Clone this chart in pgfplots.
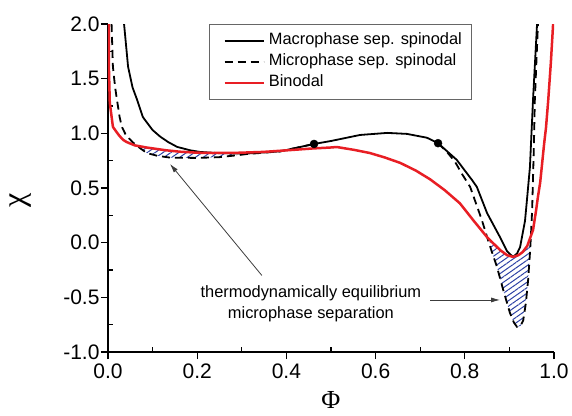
\documentclass[border=0pt]{standalone}
\usepackage{pgfplots}
\pgfplotsset{compat=1.18}
\usepackage{fontspec}
\setmainfont{Liberation Sans}
\newfontfamily\greekfont{Liberation Serif}
\usetikzlibrary{patterns,patterns.meta,arrows.meta}
\definecolor{myred}{RGB}{232,30,36}
\definecolor{hatchblue}{RGB}{45,65,165}
\definecolor{arrowgray}{RGB}{60,60,60}
\begin{document}
\begin{tikzpicture}
\useasboundingbox (-108pt,-63pt) rectangle (464pt,352pt);
\begin{axis}[
 at={(0pt,0pt)}, anchor=south west,
 scale only axis, width=446pt, height=328pt,
 xmin=0, xmax=1, ymin=-1, ymax=2,
 axis x line*=bottom, axis y line*=left,
 axis line style={line width=1.2pt},
 xtick={0,0.2,0.4,0.6,0.8,1}, ytick={-1,-0.5,0,0.5,1,1.5,2},
 minor x tick num=1, minor y tick num=1,
 tick align=inside, major tick length=7pt, minor tick length=5pt,
 every tick/.style={black, line width=1.1pt},
 major x tick style={yshift=-7pt},
 major y tick style={xshift=-7pt},
 /pgf/number format/.cd, fixed, fixed zerofill, precision=1, assume math mode=true,
 /pgfplots/.cd,
 xticklabel style={font=\fontsize{21}{25}\selectfont, yshift=-8pt},
 yticklabel style={font=\fontsize{21}{25}\selectfont, xshift=-5pt},
 xlabel={\greekfont Φ}, ylabel={\greekfont χ},
 x label style={at={(axis description cs:0.5,-0.146)}, anchor=center, font=\fontsize{26}{30}\selectfont},
 y label style={at={(axis description cs:-0.195,0.463)}, anchor=center, rotate=0, font=\fontsize{32}{36}\selectfont},
 legend style={at={(axis cs:0.2265,2)}, anchor=north west, draw=gray!80!black, line width=0.8pt,
   font=\fontsize{16.4}{19}\selectfont, inner xsep=8pt, inner ysep=6pt, row sep=0pt, column sep=2pt,
   cells={anchor=west}, nodes={inner sep=2pt, text height=12.5pt, text depth=4.5pt}},
 legend image code/.code={\path (0pt,0pt); \draw[#1] (6pt,0pt) -- (45pt,0pt);},
]
% hatched regions
\addplot[forget plot, draw=none, pattern={Lines[angle=35,distance=4.5pt,line width=1pt]}, pattern color=hatchblue] coordinates {
 (0.070,0.878) (0.087,0.868) (0.13,0.845) (0.161,0.832) (0.2,0.823) (0.235,0.82) (0.29,0.822)
 (0.29,0.80) (0.25,0.782) (0.2,0.775) (0.139,0.778) (0.11,0.795) (0.087,0.82) (0.070,0.870)} -- cycle;
\addplot[forget plot, draw=none, pattern={Lines[angle=35,distance=4.5pt,line width=1pt]}, pattern color=hatchblue] coordinates {
 (0.855,0.03) (0.87,-0.03) (0.879,-0.067) (0.895,-0.115) (0.908,-0.13) (0.92,-0.115) (0.93,-0.085) (0.94,-0.03) (0.948,0.04)
 (0.946,-0.1) (0.942,-0.34) (0.937,-0.55) (0.931,-0.71) (0.925,-0.76) (0.917,-0.77) (0.91,-0.73) (0.901,-0.64) (0.886,-0.43) (0.872,-0.22) (0.862,-0.1) (0.855,0.02)} -- cycle;
% macrophase spinodal
\addplot[black, line width=1.8pt, line join=round] coordinates {
 (0.036,2.0) (0.045,1.61) (0.055,1.42) (0.065,1.31) (0.078,1.15) (0.087,1.10) (0.1,1.03) (0.117,0.97)
 (0.135,0.92) (0.155,0.876) (0.184,0.845) (0.206,0.83) (0.251,0.818) (0.31,0.815) (0.386,0.835)
 (0.462,0.903) (0.5,0.93) (0.565,0.985) (0.626,1.004) (0.67,0.995) (0.715,0.96) (0.74,0.91)
 (0.782,0.757) (0.816,0.574) (0.827,0.51) (0.85,0.27) (0.879,0.05) (0.895,-0.08) (0.908,-0.13)
 (0.917,-0.1) (0.924,-0.04) (0.935,0.2) (0.94,0.42) (0.946,0.69) (0.953,1.31) (0.962,2.0)};
\addlegendentry{Macrophase sep. spinodal}
% microphase spinodal
\addplot[black, line width=1.8pt, dash pattern=on 8pt off 5pt] coordinates {
 (0.008,2.0) (0.011,1.61) (0.016,1.42) (0.02,1.31) (0.026,1.15) (0.031,1.06) (0.04,0.985) (0.055,0.92)
 (0.07,0.87) (0.087,0.82) (0.11,0.795) (0.139,0.778) (0.2,0.775) (0.25,0.782) (0.29,0.80) (0.31,0.81)
 (0.386,0.835) (0.462,0.903)};
\addlegendentry{Microphase sep. spinodal}
\addplot[forget plot, black, line width=1.8pt, dash pattern=on 8pt off 5pt] coordinates {
 (0.74,0.91) (0.76,0.83) (0.778,0.74) (0.795,0.62) (0.812,0.51) (0.825,0.36) (0.838,0.21) (0.852,0.025)
 (0.862,-0.1) (0.872,-0.22) (0.886,-0.43) (0.901,-0.64) (0.91,-0.73) (0.917,-0.77) (0.925,-0.76)
 (0.931,-0.71) (0.937,-0.55) (0.942,-0.34) (0.946,-0.1) (0.948,0.04) (0.951,0.3) (0.953,0.6)
 (0.955,0.9) (0.957,1.3) (0.96,1.6) (0.964,2.0)};
% binodal
\addplot[myred, line width=2.5pt, line join=round] coordinates {
 (0.002,2.0) (0.002,1.61) (0.004,1.28) (0.011,1.06) (0.016,1.03) (0.025,0.98) (0.034,0.94) (0.042,0.92)
 (0.06,0.89) (0.087,0.87) (0.13,0.845) (0.161,0.832) (0.2,0.823) (0.235,0.82) (0.29,0.822) (0.348,0.83)
 (0.42,0.85) (0.46,0.862) (0.498,0.87) (0.513,0.875) (0.55,0.85) (0.587,0.82) (0.62,0.78) (0.655,0.73)
 (0.69,0.66) (0.722,0.58) (0.755,0.48) (0.789,0.36) (0.82,0.2) (0.85,0.05) (0.879,-0.067) (0.895,-0.115)
 (0.908,-0.13) (0.92,-0.115) (0.93,-0.085) (0.94,-0.03) (0.953,0.116) (0.96,0.3) (0.964,0.42) (0.969,0.55)
 (0.974,0.75) (0.978,0.91) (0.982,1.05) (0.987,1.3) (0.993,1.65) (0.998,2.0)};
\addlegendentry{Binodal}
% Lifshitz points
\addplot[forget plot, only marks, mark=*, mark size=4pt, black] coordinates {(0.462,0.903) (0.74,0.91)};
% annotations
\draw[arrowgray, line width=0.8pt, -{Latex[length=9pt,width=5pt]}] (axis cs:0.345,-0.30) -- (axis cs:0.139,0.72);
\draw[arrowgray, line width=0.8pt, -{Latex[length=9pt,width=5pt]}] (axis cs:0.722,-0.524) -- (axis cs:0.879,-0.524);
\node[align=center, font=\fontsize{16.4}{21}\selectfont] at (axis cs:0.455,-0.556) {thermodynamically equilibrium\\microphase separation};
\end{axis}
\end{tikzpicture}
\end{document}
